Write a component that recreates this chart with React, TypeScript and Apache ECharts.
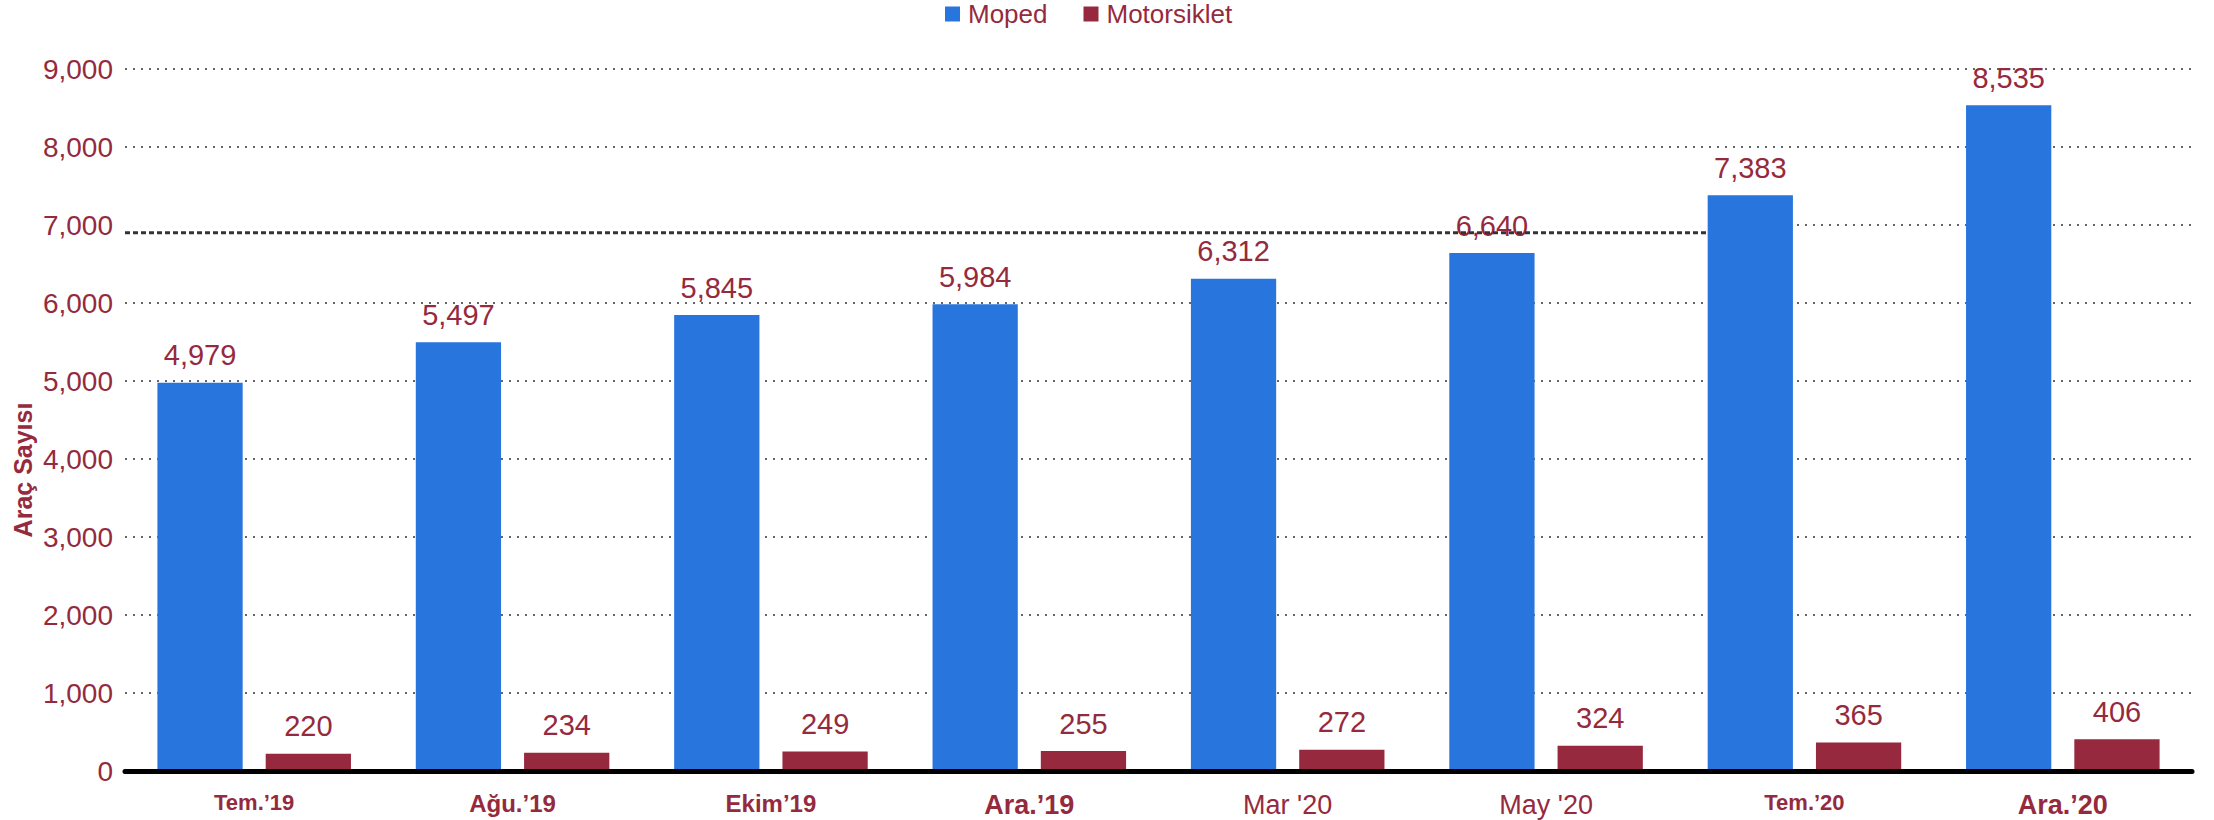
import React, { useEffect, useRef } from "react";
import * as echarts from "echarts";

const categories = ["Tem.’19", "Ağu.’19", "Ekim’19", "Ara.’19", "Mar '20", "May '20", "Tem.’20", "Ara.’20"];
const mopedValues = [4979, 5497, 5845, 5984, 6312, 6640, 7383, 8535];
const motosikletValues = [220, 234, 249, 255, 272, 324, 365, 406];
const yTicks = { min: 0, max: 9000, interval: 1000 };
const refLineValue = 6900;
const hiddenGridValue = 7000;
const refLineSpan = [0, 6.13];

// label style key per category (presentation only)
const labelStyleKeys = ["sm", "md", "ek", "lg", "reg", "reg", "sm", "lg"];

const RED = "#952A3E";
const BLUE = "#2876DD";
const FONT = "'Liberation Sans', Arial, sans-serif";

export default function App() {
  const ref = useRef<HTMLDivElement>(null);
  useEffect(() => {
    if (!ref.current) return;
    const chart = echarts.init(ref.current, null, { renderer: "svg" });
    const valueLabel = {
      show: true,
      position: "top",
      distance: 13,
      fontSize: 29,
      color: RED,
      fontFamily: FONT,
      formatter: (p: any) => Number(p.value).toLocaleString("en-US"),
    };
    chart.setOption({
      animation: false,
      textStyle: { fontFamily: FONT },
      legend: {
        data: ["Moped", "Motorsiklet"],
        left: 945,
        top: 1,
        padding: 0,
        itemWidth: 15,
        itemHeight: 15,
        itemGap: 36,
        icon: "rect",
        textStyle: { fontSize: 26, color: RED, fontFamily: FONT, padding: [0, 0, 0, 3] },
      },
      grid: { left: 125, right: 22, top: 69, bottom: 49, containLabel: false },
      xAxis: [
        {
          type: "category",
          data: categories,
          axisTick: { show: false },
          axisLine: { show: true, onZero: false, lineStyle: { color: "#000", width: 5 } },
          axisLabel: {
            margin: 20,
            verticalAlign: "top",
            formatter: (v: string, i: number) => `{${labelStyleKeys[i]}|${v}}`,
            rich: {
              sm: { fontSize: 22, fontWeight: "bold", color: RED, fontFamily: FONT, lineHeight: 22 },
              ek: { fontSize: 24, fontWeight: "bold", color: RED, fontFamily: FONT, lineHeight: 24 },
              md: { fontSize: 24, fontWeight: "bold", color: RED, fontFamily: FONT, lineHeight: 24 },
              lg: { fontSize: 27, fontWeight: "bold", color: RED, fontFamily: FONT, lineHeight: 27 },
              reg: { fontSize: 27, fontWeight: "normal", color: RED, fontFamily: FONT, lineHeight: 27 },
            },
          },
          z: 10,
        },
        { type: "value", min: 0, max: categories.length, show: false },
      ],
      yAxis: {
        type: "value",
        min: yTicks.min,
        max: yTicks.max,
        interval: yTicks.interval,
        axisLine: { show: false },
        axisTick: { show: false },
        axisLabel: {
          margin: 12,
          fontSize: 28,
          color: RED,
          fontFamily: FONT,
          formatter: (v: number) => v.toLocaleString("en-US"),
        },
        splitLine: { show: true, lineStyle: { color: "#666", width: 2, type: [2, 6] } },
      },
      graphic: [
        {
          type: "text",
          x: 23,
          y: 470,
          rotation: Math.PI / 2,
          style: {
            text: "Araç Sayısı",
            fontSize: 25,
            fontWeight: "bold",
            fill: RED,
            fontFamily: FONT,
            textAlign: "center",
            textVerticalAlign: "middle",
          },
        },
      ],
      series: [
        {
          name: "Moped",
          type: "bar",
          data: mopedValues,
          barWidth: "33%",
          barGap: "27%",
          itemStyle: { color: BLUE },
          label: valueLabel,
        },
        {
          name: "Motorsiklet",
          type: "bar",
          data: motosikletValues,
          barWidth: "33%",
          barGap: "27%",
          itemStyle: { color: "#96293E" },
          label: valueLabel,
        },
        {
          name: "gridMask",
          type: "line",
          xAxisIndex: 1,
          data: refLineSpan.map((x) => [x, hiddenGridValue]),
          symbol: "none",
          silent: true,
          lineStyle: { color: "#fff", width: 4 },
          z: 1,
        },
        {
          name: "ref",
          type: "line",
          xAxisIndex: 1,
          data: refLineSpan.map((x) => [x, refLineValue]),
          symbol: "none",
          silent: true,
          lineStyle: { color: "#333", width: 3, type: [5, 3] },
          z: 5,
        },
      ],
    });
    return () => chart.dispose();
  }, []);
  return (
    <div
      ref={ref}
      style={{ position: "absolute", left: 0, top: 0, width: 2214, height: 820, background: "#fff" }}
    />
  );
}
